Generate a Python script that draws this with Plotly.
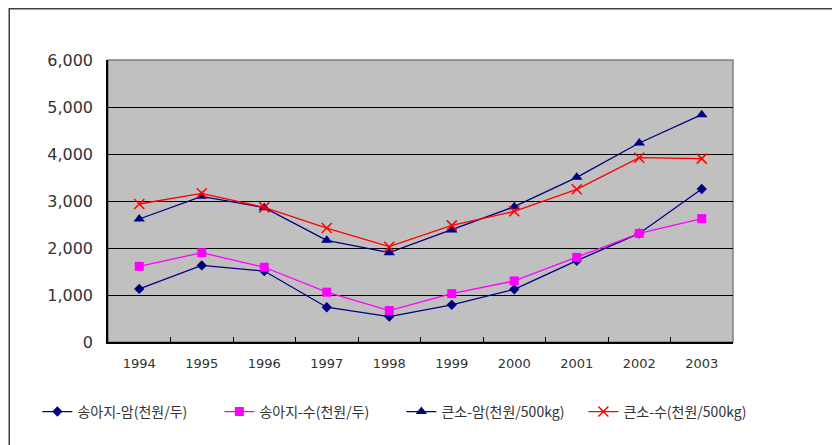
import plotly.graph_objects as go

years = ["1994", "1995", "1996", "1997", "1998", "1999", "2000", "2001", "2002", "2003"]
calf_female = [1130, 1630, 1510, 740, 540, 790, 1120, 1730, 2310, 3255]
calf_male = [1610, 1900, 1590, 1060, 670, 1030, 1300, 1800, 2310, 2625]
cow_female = [2617, 3100, 2858, 2163, 1900, 2383, 2879, 3504, 4234, 4837]
cow_male = [2936, 3163, 2865, 2425, 2028, 2482, 2780, 3248, 3922, 3901]

names = ["송아지-암(천원/두)", "송아지-수(천원/두)", "큰소-암(천원/500kg)", "큰소-수(천원/500kg)"]
y_ticks = [0, 1000, 2000, 3000, 4000, 5000, 6000]

fig = go.Figure()
fig.add_trace(go.Scatter(x=years, y=calf_female, name=names[0], mode="lines+markers",
                         line=dict(color="#000080", width=1.3),
                         marker=dict(symbol="diamond", size=8, color="#000080")))
fig.add_trace(go.Scatter(x=years, y=calf_male, name=names[1], mode="lines+markers",
                         line=dict(color="#FF00FF", width=1.3),
                         marker=dict(symbol="square", size=9, color="#FF00FF")))
fig.add_trace(go.Scatter(x=years, y=cow_female, name=names[2], mode="lines+markers",
                         line=dict(color="#000080", width=1.3),
                         marker=dict(symbol="triangle-up", size=10, color="#000080")))
fig.add_trace(go.Scatter(x=years, y=cow_male, name=names[3], mode="lines+markers",
                         line=dict(color="#FF0000", width=1.3),
                         marker=dict(symbol="x-thin-open", size=10, color="#FF0000",
                                     line=dict(color="#FF0000", width=1.5))))

# page has an 8px body margin, so the figure is 832x437 and offset by 8px
fig.update_layout(
    width=832, height=437,
    margin=dict(l=100, r=107, t=52, b=103),
    paper_bgcolor="white",
    plot_bgcolor="#C0C0C0",
    font=dict(family="DejaVu Sans", color="#333333"),
    showlegend=True,
    legend=dict(orientation="h", x=-0.113, xanchor="left", y=-0.248, yanchor="middle",
                font=dict(family="Noto Sans CJK KR", size=14, color="#333333"),
                entrywidth=137, entrywidthmode="pixels",
                bgcolor="rgba(0,0,0,0)", itemwidth=30),
    xaxis=dict(type="category", showline=True, linecolor="black", linewidth=1.5,
               ticks="inside", tickson="boundaries", ticklen=5, tickcolor="black",
               showgrid=False, tickfont=dict(size=13, color="#333333"),
               ticklabelstandoff=9, range=[-0.5, 9.5]),
    yaxis=dict(range=[0, 6000], tickvals=y_ticks, tickformat=",", showline=True,
               linecolor="black", linewidth=1.5, gridcolor="black", gridwidth=1,
               zeroline=False, ticks="", tickfont=dict(size=16, color="#333333"),
               ticklabelstandoff=10),
    shapes=[
        dict(type="rect", xref="paper", yref="paper", x0=0, x1=1, y0=0, y1=1,
             line=dict(color="#808080", width=1.5), layer="below"),
        dict(type="rect", xref="paper", yref="paper", x0=-0.158, x1=2, y0=-1, y1=1.182,
             line=dict(color="#404040", width=1.5), layer="above"),
    ],
)

fig.write_html("out.html")
